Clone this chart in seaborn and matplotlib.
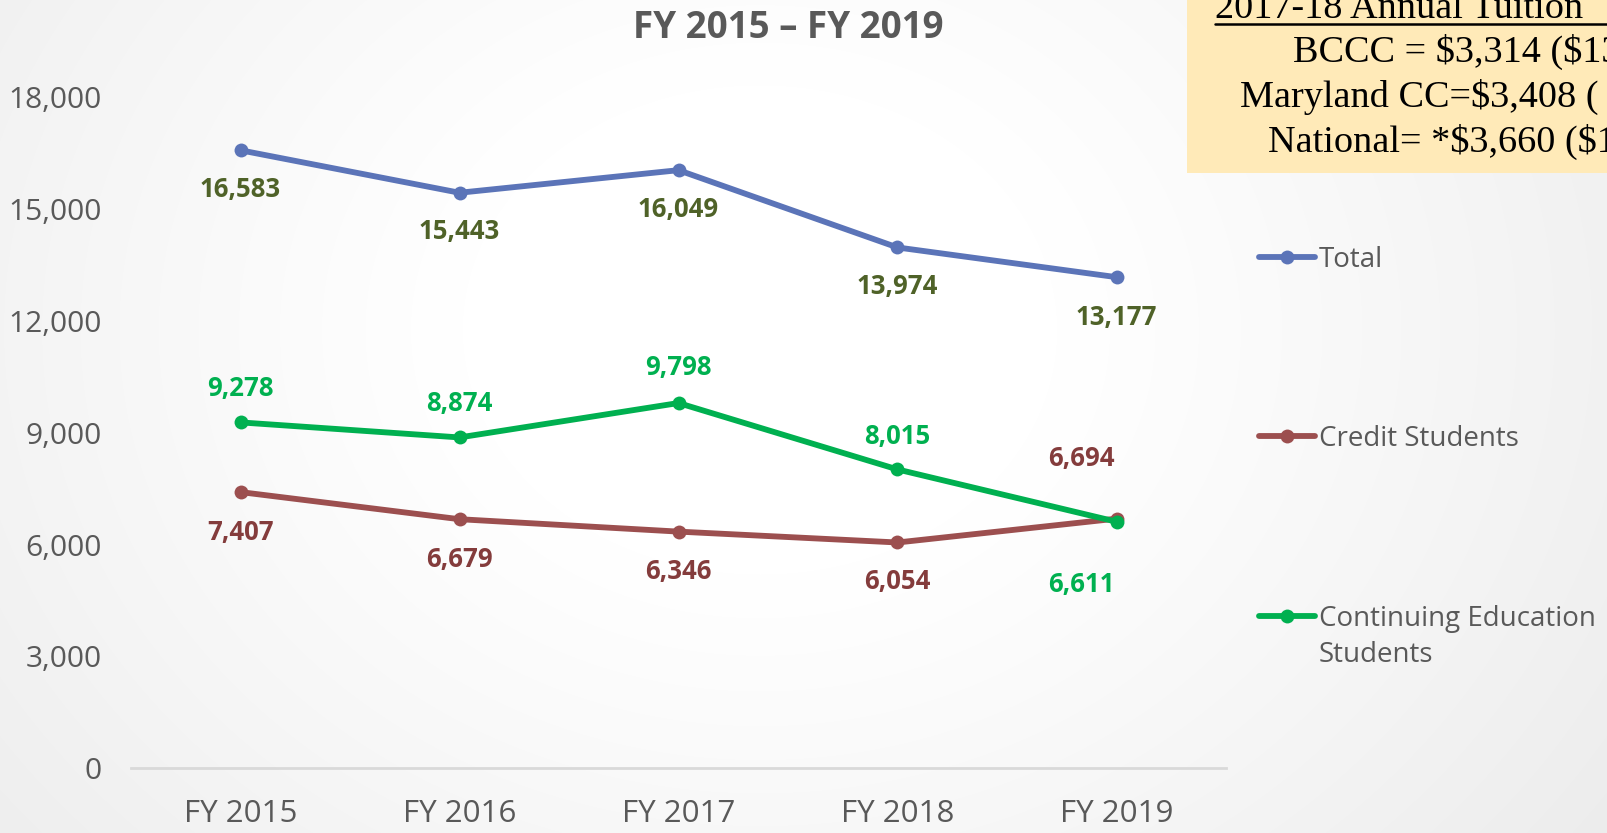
import numpy as np
import pandas as pd
import matplotlib
matplotlib.use("Agg")
import matplotlib.pyplot as plt
from matplotlib.patches import Rectangle
from matplotlib.lines import Line2D
import seaborn as sns

# ---- data ----
years = ["FY 2015", "FY 2016", "FY 2017", "FY 2018", "FY 2019"]
total = [16583, 15443, 16049, 13974, 13177]
credit = [7407, 6679, 6346, 6054, 6694]
contin = [9278, 8874, 9798, 8015, 6611]
series_names = ["Total", "Credit Students", "Continuing Education\nStudents"]
yticks = [0, 3000, 6000, 9000, 12000, 15000, 18000]

box_lines = ["2017-18 Annual Tuition ", "BCCC = $3,314 ($13", "Maryland CC=$3,408 (", "National= *$3,660 ($1"]

sns.set_theme(style="white")
plt.rcParams["font.family"] = ["Open Sans", "DejaVu Sans"]

W, H = 1608, 833
fig = plt.figure(figsize=(W / 100, H / 100), dpi=100)

# background radial gradient
bg = fig.add_axes([0, 0, 1, 1], zorder=-10)
yy, xx = np.mgrid[0:H, 0:W]
r = np.sqrt(((xx - 760) / 850.0) ** 2 + ((yy - 330) / 700.0) ** 2)
val = 1.0 - 0.085 * np.clip(r - 0.35, 0, None) ** 1.1
bg.imshow(np.dstack([val, val, val]), aspect="auto", extent=[0, 1, 0, 1], vmin=0, vmax=1)
bg.set_axis_off()

ax = fig.add_axes([131 / W, 1 - 768 / H, (1226 - 131) / W, 670.5 / H])
ax.set_facecolor("none")

df = pd.DataFrame({
    "year": years * 3,
    "value": total + credit + contin,
    "series": [series_names[0]] * 5 + [series_names[1]] * 5 + [series_names[2]] * 5,
})
line_colors = ["#5B74B8", "#9C4F4F", "#00B050"]
label_colors = ["#4F6228", "#843C3C", "#00B050"]

for i, name in enumerate(series_names):
    sub = df[df["series"] == name]
    sns.lineplot(data=sub, x="year", y="value", ax=ax, color=line_colors[i],
                 linewidth=4.2, marker="o", markersize=10, markeredgewidth=0,
                 label=name, sort=False, zorder=3 + i)

# data labels
offsets = {
    0: [(0, -39), (0, -39), (0, -39), (0, -39), (0, -40)],
    1: [(0, -40), (0, -40), (0, -40), (0, -39), (-35, 60)],
    2: [(0, 34), (0, 34), (0, 36), (0, 33), (-35, -63)],
}
for i, vals in enumerate([total, credit, contin]):
    for j, v in enumerate(vals):
        dx, dy = offsets[i][j]
        ax.annotate(f"{v:,}", (j, v), xytext=(dx, dy), textcoords="offset pixels",
                    ha="center", va="center", fontsize=18.5, fontweight="bold",
                    color=label_colors[i], zorder=10)

ax.set_xlim(-0.5, 4.5)
ax.set_ylim(0, 18000)
ax.set_yticks(yticks)
ax.set_yticklabels([f"{t:,}" for t in yticks])
ax.set_xlabel("")
ax.set_ylabel("")
ax.tick_params(axis="y", length=0, pad=21, labelsize=21.5, labelcolor="#595959")
ax.tick_params(axis="x", length=0, pad=22, labelsize=22.5, labelcolor="#595959")
for s in ["top", "right", "left"]:
    ax.spines[s].set_visible(False)
ax.spines["bottom"].set_color("#D9D9D9")
ax.spines["bottom"].set_linewidth(2)
ax.grid(False)

leg = ax.legend(loc="upper left", bbox_to_anchor=(1259 / W, 1 - 246 / H),
                bbox_transform=fig.transFigure, frameon=False, fontsize=20,
                handlelength=2.0, handleheight=1.0, handletextpad=0.15,
                labelspacing=5.45, borderpad=0, borderaxespad=0)
for t in leg.get_texts():
    t.set_color("#595959")
    t.set_linespacing(1.4)
for col in leg._legend_handle_box.get_children():
    for hp in col.get_children():
        hp.align = "top"

fig.text(788 / W, 1 - 28 / H, "FY 2015 \u2013 FY 2019", ha="center", va="center",
         fontsize=26.5, fontweight="bold", color="#595959")

# tuition box
fig.patches.append(Rectangle((1187 / W, 1 - 173 / H), (W - 1187) / W, 173 / H,
                             transform=fig.transFigure, facecolor="#FFEAB8",
                             edgecolor="none", zorder=1))
box_x = [1215, 1293, 1240, 1268]
box_y = [18, 62, 107, 152]
for s, x, y in zip(box_lines, box_x, box_y):
    fig.text(x / W, 1 - y / H, s, ha="left", va="baseline", fontsize=27.5,
             family="Liberation Serif", color="black", zorder=5, parse_math=False)
fig.lines.append(Line2D([1215 / W, 1.0], [1 - 24 / H, 1 - 24 / H], transform=fig.transFigure,
                        color="black", linewidth=1.8, zorder=5))

fig.savefig("out.png", dpi=100)
